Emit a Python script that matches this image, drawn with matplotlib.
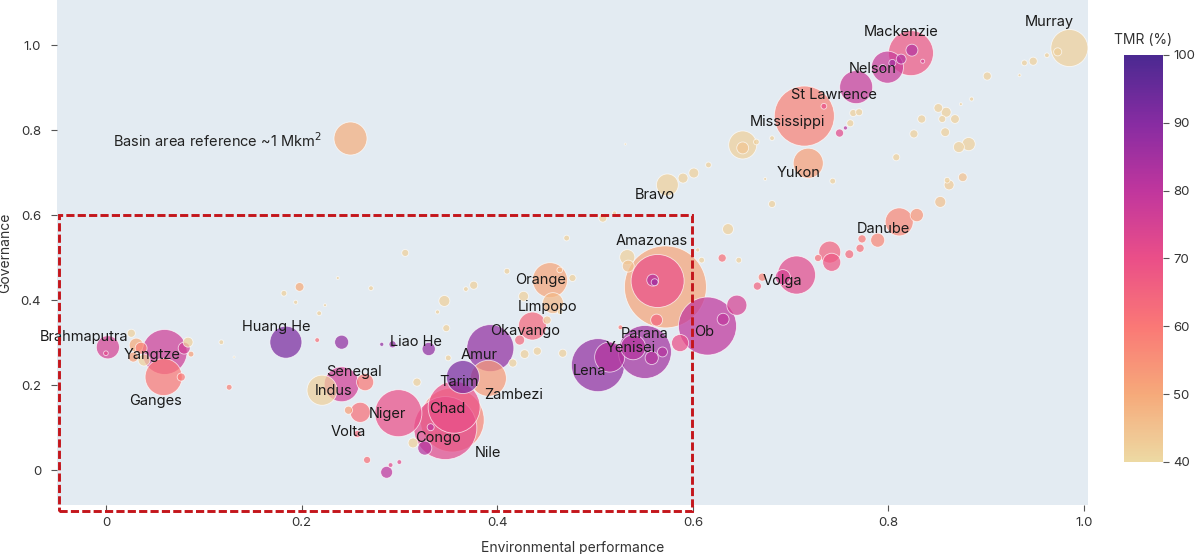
import numpy as np
import matplotlib.pyplot as plt
from matplotlib.colors import LinearSegmentedColormap, Normalize
from matplotlib.patches import Rectangle

DPI = 100
WIDTH, HEIGHT = 1199, 554

plt.rcParams["font.family"] = ["Inter", "DejaVu Sans"]

# basins: environmental performance, governance, basin area (Mkm2), TMR (%)
env = [
    0.002, 0.060, 0.059, 0.184, 0.241, 0.241, 0.265, 0.221, 0.260, 0.299,
    0.354, 0.356, 0.347, 0.365, 0.393, 0.391, 0.436, 0.457, 0.454, 0.572,
    0.564, 0.503, 0.551, 0.615, 0.706, 0.811, 0.714, 0.718, 0.574, 0.767,
    0.799, 0.823, 0.985,
    # smaller basins
    0.026, 0.031, 0.036, 0.028, 0.039, 0.084, 0.080, 0.087, 0.077, 0.000,
    0.118, 0.131, 0.126, 0.216, 0.282, 0.293, 0.330,
    0.198, 0.182, 0.194, 0.224, 0.218, 0.237, 0.271, 0.306, 0.346, 0.368,
    0.376, 0.339, 0.348, 0.350, 0.318, 0.410, 0.427, 0.471, 0.508, 0.520,
    0.464, 0.477, 0.451, 0.464, 0.423, 0.441, 0.428, 0.416, 0.467,
    0.248, 0.257, 0.267, 0.287, 0.291, 0.300, 0.314, 0.326, 0.332,
    0.559, 0.561, 0.533, 0.534, 0.563, 0.526, 0.609, 0.605, 0.515, 0.539,
    0.558, 0.569, 0.587, 0.645, 0.631,
    0.692, 0.666, 0.671, 0.740, 0.742, 0.728, 0.760, 0.771, 0.773, 0.789,
    0.829, 0.853, 0.862, 0.876, 0.860, 0.630, 0.647, 0.636, 0.681, 0.743,
    0.851, 0.859, 0.868, 0.834, 0.855, 0.858, 0.826, 0.872, 0.882, 0.808,
    0.885, 0.874,
    0.750, 0.756, 0.761, 0.770, 0.764, 0.734, 0.665, 0.681, 0.651, 0.651,
    0.616, 0.601, 0.590, 0.531, 0.674,
    0.824, 0.813, 0.804, 0.794, 0.835,
    0.973, 0.962, 0.948, 0.939, 0.901, 0.934,
]
gov = [
    0.289, 0.278, 0.219, 0.301, 0.301, 0.202, 0.207, 0.188, 0.136, 0.134,
    0.118, 0.148, 0.099, 0.219, 0.287, 0.216, 0.339, 0.393, 0.447, 0.431,
    0.445, 0.247, 0.278, 0.339, 0.459, 0.584, 0.833, 0.722, 0.671, 0.901,
    0.948, 0.981, 0.993,
    0.322, 0.294, 0.287, 0.266, 0.259, 0.301, 0.287, 0.273, 0.219, 0.275,
    0.301, 0.266, 0.195, 0.306, 0.296, 0.296, 0.285,
    0.431, 0.416, 0.395, 0.388, 0.369, 0.452, 0.428, 0.511, 0.398, 0.426,
    0.435, 0.372, 0.334, 0.264, 0.207, 0.468, 0.409, 0.546, 0.593, 0.605,
    0.471, 0.452, 0.353, 0.372, 0.306, 0.280, 0.273, 0.252, 0.275,
    0.141, 0.085, 0.024, -0.005, 0.012, 0.019, 0.064, 0.052, 0.101,
    0.447, 0.442, 0.501, 0.480, 0.353, 0.336, 0.494, 0.518, 0.266, 0.289,
    0.264, 0.278, 0.299, 0.388, 0.355,
    0.454, 0.433, 0.454, 0.513, 0.489, 0.499, 0.508, 0.522, 0.544, 0.541,
    0.600, 0.631, 0.671, 0.689, 0.682, 0.499, 0.494, 0.567, 0.626, 0.680,
    0.852, 0.842, 0.826, 0.826, 0.826, 0.795, 0.791, 0.760, 0.767, 0.736,
    0.873, 0.861,
    0.793, 0.805, 0.816, 0.842, 0.840, 0.856, 0.772, 0.781, 0.765, 0.758,
    0.718, 0.699, 0.687, 0.767, 0.685,
    0.988, 0.967, 0.958, 0.946, 0.962,
    0.984, 0.976, 0.962, 0.958, 0.927, 0.929,
]
area = [
    0.49, 1.86, 1.26, 0.94, 0.18, 1.12, 0.27, 0.83, 0.37, 2.03,
    3.76, 2.48, 3.64, 1.00, 2.03, 1.19, 0.72, 0.40, 1.12, 6.17,
    2.58, 2.58, 2.58, 3.09, 1.33, 0.72, 3.31, 0.83, 0.44, 1.00,
    0.94, 1.86, 1.26,
    0.06, 0.18, 0.13, 0.09, 0.13, 0.09, 0.13, 0.03, 0.06, 0.02,
    0.02, 0.004, 0.03, 0.02, 0.015, 0.045, 0.16,
    0.07, 0.03, 0.015, 0.008, 0.02, 0.008, 0.02, 0.045, 0.11, 0.02,
    0.06, 0.015, 0.045, 0.03, 0.06, 0.03, 0.09, 0.03, 0.06, 0.015,
    0.03, 0.045, 0.06, 0.02, 0.09, 0.06, 0.07, 0.06, 0.06,
    0.06, 0.045, 0.045, 0.13, 0.02, 0.02, 0.09, 0.18, 0.045,
    0.13, 0.045, 0.21, 0.13, 0.13, 0.02, 0.03, 0.015, 0.83, 0.57,
    0.16, 0.09, 0.27, 0.37, 0.13,
    0.21, 0.06, 0.06, 0.44, 0.30, 0.045, 0.07, 0.06, 0.06, 0.18,
    0.16, 0.11, 0.09, 0.07, 0.03, 0.06, 0.03, 0.11, 0.045, 0.03,
    0.07, 0.09, 0.07, 0.06, 0.045, 0.07, 0.06, 0.11, 0.16, 0.045,
    0.015, 0.008,
    0.06, 0.015, 0.045, 0.045, 0.045, 0.03, 0.03, 0.02, 0.72, 0.13,
    0.03, 0.09, 0.09, 0.004, 0.008,
    0.13, 0.09, 0.045, 0.045, 0.015,
    0.06, 0.02, 0.06, 0.03, 0.06, 0.008,
]
tmr = [
    75, 77, 60, 92, 88, 76, 60, 42, 62, 70,
    57, 70, 72, 92, 88, 53, 64, 47, 51, 51,
    70, 88, 85, 80, 72, 57, 58, 52, 42, 78,
    78, 68, 42,
    42, 50, 58, 52, 42, 42, 76, 52, 60, 72,
    42, 42, 58, 62, 88, 88, 88,
    50, 42, 42, 42, 42, 42, 42, 42, 42, 42,
    42, 42, 42, 42, 42, 42, 42, 42, 42, 42,
    48, 42, 45, 42, 63, 42, 42, 42, 42,
    52, 63, 62, 80, 72, 72, 42, 82, 80,
    82, 85, 42, 45, 65, 60, 42, 42, 82, 82,
    82, 82, 70, 75, 80,
    75, 65, 58, 65, 68, 62, 63, 62, 60, 57,
    54, 45, 43, 45, 42, 62, 42, 42, 42, 42,
    42, 42, 42, 42, 42, 42, 42, 42, 42, 42,
    42, 42,
    72, 82, 42, 42, 42, 70, 42, 42, 42, 44,
    42, 42, 42, 42, 42,
    82, 82, 85, 82, 75,
    42, 42, 42, 42, 42, 42,
]

# labels and where they sit
names = ["Brahmaputra", "Yangtze", "Ganges", "Huang He", "Liao He", "Senegal",
         "Indus", "Niger", "Volta", "Chad", "Congo", "Nile", "Tarim", "Amur",
         "Zambezi", "Okavango", "Limpopo", "Orange", "Amazonas", "Parana",
         "Yenisei", "Lena", "Ob", "Volga", "Danube", "Mississippi", "Yukon",
         "Bravo", "St Lawrence", "Nelson", "Mackenzie", "Murray"]
name_x = [-0.022, 0.047, 0.051, 0.174, 0.317, 0.254, 0.233, 0.288, 0.248,
          0.349, 0.339, 0.391, 0.361, 0.382, 0.417, 0.429, 0.451, 0.444,
          0.558, 0.551, 0.537, 0.494, 0.612, 0.692, 0.795, 0.697, 0.708,
          0.561, 0.744, 0.784, 0.813, 0.964]
name_y = [0.313, 0.271, 0.162, 0.336, 0.301, 0.231, 0.186, 0.132, 0.089,
          0.144, 0.075, 0.040, 0.207, 0.271, 0.176, 0.327, 0.384, 0.447,
          0.539, 0.320, 0.287, 0.233, 0.325, 0.445, 0.567, 0.819, 0.699,
          0.647, 0.882, 0.944, 1.031, 1.054]

ref_x, ref_y, ref_area, ref_tmr = 0.250, 0.781, 1.0, 49

cmap = LinearSegmentedColormap.from_list("agsunset_r", [
    "#edd9a3", "#f6a97a", "#fa7876", "#ea4f88", "#c0369d", "#872ca2", "#4b2991"])
norm = Normalize(40, 100)

px_per_unit = 33 * 72 / DPI  # diameter in points of a 1 Mkm2 basin

env = np.array(env)
gov = np.array(gov)
area = np.array(area)
tmr = np.array(tmr)
order = np.argsort(-area)

fig = plt.figure(figsize=(WIDTH / DPI, HEIGHT / DPI), dpi=DPI)
ax = fig.add_axes([57 / WIDTH, 1 - 505 / HEIGHT, 1031 / WIDTH, 505 / HEIGHT])
ax.set_facecolor("#e3ebf2")
for s in ax.spines.values():
    s.set_visible(False)

sc = ax.scatter(env[order], gov[order], s=(px_per_unit ** 2) * area[order],
                c=tmr[order], cmap=cmap, norm=norm, alpha=0.72,
                edgecolors="white", linewidths=0.6, zorder=3)
ax.scatter([ref_x], [ref_y], s=(px_per_unit ** 2) * ref_area, c=[ref_tmr],
           cmap=cmap, norm=norm, alpha=0.72, edgecolors="white",
           linewidths=0.6, zorder=3)
ax.text(0.221, 0.776, "Basin area reference ~1 Mkm$^2$", ha="right",
        va="center", fontsize=10.5, color="#222222", zorder=5)

for n, x, y in zip(names, name_x, name_y):
    ax.text(x, y, n, ha="center", va="center", fontsize=10.5,
            color="#1a1a1a", zorder=5)

ax.add_patch(Rectangle((-0.048, -0.096), 0.647, 0.696, fill=False,
                       edgecolor="#c4161c", linewidth=2.1,
                       linestyle=(0, (2.8, 1.1)), clip_on=False, zorder=6))

ax.set_xlim(-0.05, 1.004)
ax.set_ylim(-0.082, 1.106)
ax.set_xticks([0, 0.2, 0.4, 0.6, 0.8, 1.0])
ax.set_xticklabels(["0", "0.2", "0.4", "0.6", "0.8", "1.0"])
ax.set_yticks([0, 0.2, 0.4, 0.6, 0.8, 1.0])
ax.set_yticklabels(["0", "0.2", "0.4", "0.6", "0.8", "1.0"])
ax.tick_params(length=4.5, width=0.8, color="#555555", labelsize=9.5,
               labelcolor="#333333")
ax.tick_params(axis="x", pad=4)
ax.tick_params(axis="y", pad=7)
ax.set_xlabel("Environmental performance", fontsize=10, color="#333333",
              labelpad=9)
ax.set_ylabel("Governance", fontsize=10, color="#333333", labelpad=6)

cax = fig.add_axes([1124 / WIDTH, 1 - 462 / HEIGHT, 39 / WIDTH, 407 / HEIGHT])
cb = fig.colorbar(plt.cm.ScalarMappable(norm=norm, cmap=cmap), cax=cax)
cb.outline.set_visible(False)
cb.set_ticks([40, 50, 60, 70, 80, 90, 100])
cb.ax.tick_params(length=4, width=0.8, color="#555555", labelsize=9.5,
                  labelcolor="#333333")
cax.set_title("TMR (%)", fontsize=10, color="#333333", pad=8)

fig.savefig("out.png", dpi=DPI)
